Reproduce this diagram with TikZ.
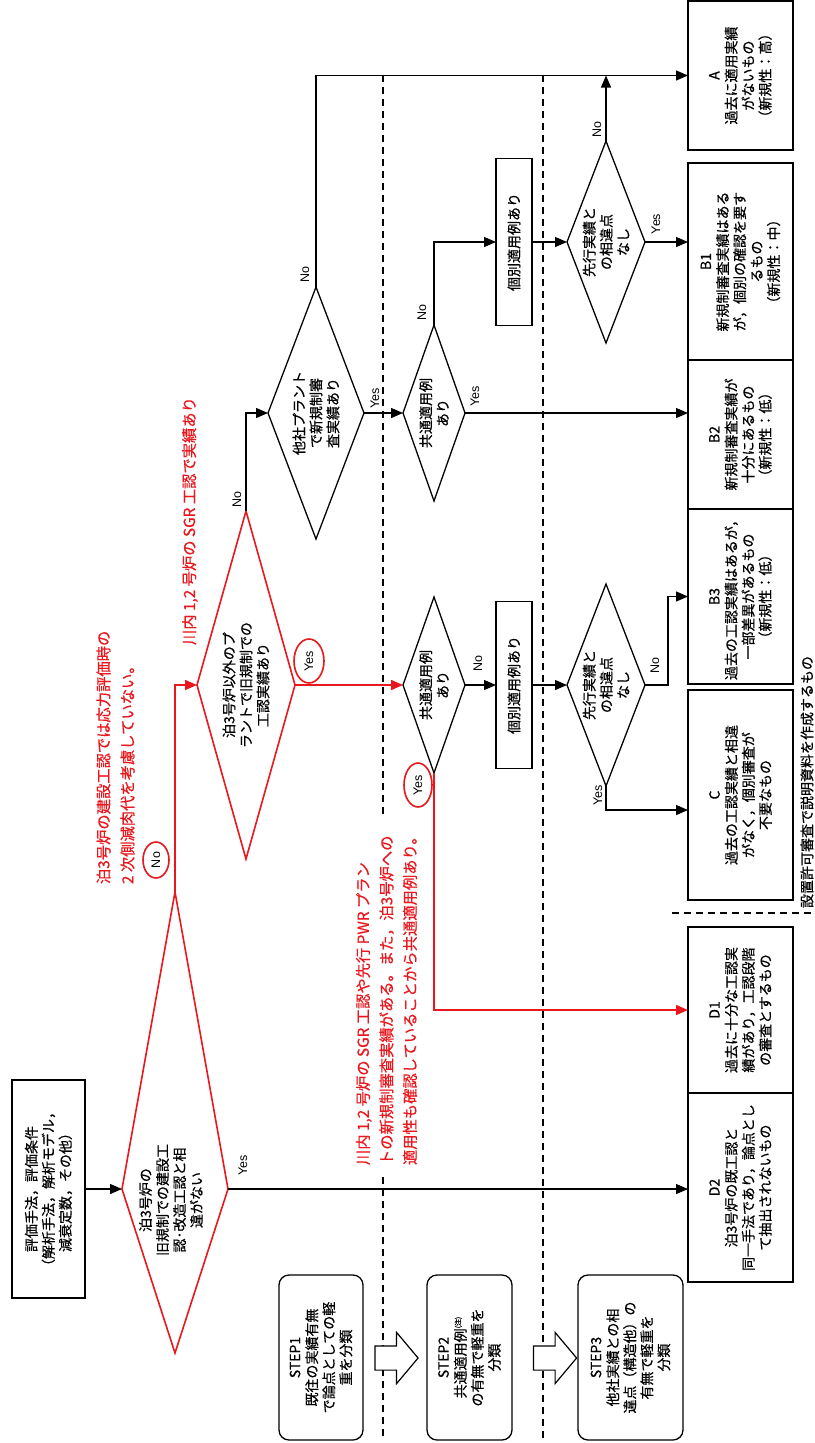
\documentclass[tikz,border=0pt]{standalone}
\usepackage{fontspec}
\setmainfont{Noto Sans CJK JP}[FakeBold=0.5]
\newfontfamily\lat{Liberation Sans}
\usetikzlibrary{arrows.meta,shapes.geometric,shapes.arrows}
\definecolor{cred}{RGB}{232,24,30}
\newcommand{\bxf}{\fontsize{14pt}{17pt}\selectfont}
\newcommand{\lblf}{\lat\fontsize{12.5pt}{14pt}\selectfont}
\newcommand{\ntf}{\fontsize{15.3pt}{24pt}\selectfont}
\begin{document}
\begin{tikzpicture}[x=1pt,y=-1pt,
 every node/.style={inner sep=0pt,outer sep=0pt},
 rbox/.style={draw,line width=1.3pt,rotate=90,align=center,font=\bxf},
 stepbox/.style={rbox,rounded corners=10pt},
 dia/.style={diamond,draw,line width=1.3pt},
 rdia/.style={diamond,draw=cred,line width=1.6pt},
 txt/.style={rotate=90,align=center,font=\bxf},
 lbl/.style={rotate=90,font=\lblf},
 roval/.style={ellipse,draw=cred,line width=1.6pt,rotate=90,font=\lblf},
 rnote/.style={rotate=90,align=left,text=cred,font=\ntf,anchor=west},
 ar/.style={line width=1.3pt,-{Triangle[length=12pt,width=10pt]}},
 rar/.style={draw=cred,line width=1.6pt,-{Triangle[length=12pt,width=10pt]}},
 dsh/.style={line width=1.3pt,dash pattern=on 7pt off 5pt},
 barrow/.style={single arrow,draw,line width=1.2pt,fill=white,minimum height=43pt,
   single arrow head extend=13.5pt,single arrow tip angle=100,inner ysep=11.5pt,inner xsep=0pt}
]
\useasboundingbox (0,0) rectangle (814,1443);
\fill[white] (0,0) rectangle (814,1443);

% separators
\draw[dsh] (383,75) -- (383,817);
\draw[dsh] (383,1177) -- (383,1440);
\draw[dsh] (543,75) -- (543,1440);
\draw[dsh] (672,913) -- (814,913);

% input box
\node[rbox,minimum width=218pt,minimum height=73pt] (hyoka) at (48.5,1189)
 {評価手法，評価条件\\（解析手法，解析モデル，\\減衰定数，その他）};

% decision 1 (kite)
\coordinate (d1t) at (175,892);
\coordinate (d1l) at (122,1189);
\coordinate (d1b) at (175,1353);
\coordinate (d1r) at (228,1189);
\draw[cred,line width=1.6pt] (d1t) -- (d1l) -- (d1b) -- (d1r) -- cycle;
\node[txt] (d1) at (171,1200) {泊3号炉の\\旧規制での建設工\\認･改造工認と相\\違がない};

% decision 2
\node[rdia,minimum width=98pt,minimum height=348pt] (d2) at (246,685) {};
\node[txt] (d2x) at (d2) {泊3号炉以外のプ\\ラントで旧規制での\\工認実績あり};

% other decisions
\node[dia,minimum width=96pt,minimum height=252pt] (tasha) at (316,413) {};
\node[txt] (tashax) at (tasha) {他社プラント\\で新規制審\\査実績あり};
\node[dia,minimum width=62pt,minimum height=176pt] (kyo1) at (434,413) {};
\node[txt] (kyo1x) at (kyo1) {共通適用例\\あり};
\node[dia,minimum width=62pt,minimum height=176pt] (kyo2) at (434,685) {};
\node[txt] (kyo2x) at (kyo2) {共通適用例\\あり};
\node[rbox,minimum width=167pt,minimum height=36pt] (ko1) at (514,242) {個別適用例あり};
\node[rbox,minimum width=167pt,minimum height=36pt] (ko2) at (514,685) {個別適用例あり};
\node[dia,minimum width=78pt,minimum height=202pt] (sen1) at (606,242) {};
\node[txt] (sen1x) at (sen1) {先行実績と\\の相違点\\なし};
\node[dia,minimum width=78pt,minimum height=202pt] (sen2) at (606,685) {};
\node[txt] (sen2x) at (sen2) {先行実績と\\の相違点\\なし};

% result boxes
\node[rbox,minimum width=149pt,minimum height=105pt] (A) at (740.5,75.5)
 {A\\過去に適用実績\\がないもの\\（新規性：高）};
\node[rbox,minimum width=197pt,minimum height=105pt] (B1) at (740.5,261.5)
 {B1\\新規制審査実績はある\\が，個別の確認を要す\\るもの\\（新規性：中）};
\node[rbox,minimum width=149pt,minimum height=105pt] (B2) at (740.5,434.5)
 {B2\\新規制審査実績が\\十分にあるもの\\（新規性：低）};
\node[rbox,minimum width=175pt,minimum height=105pt] (B3) at (740.5,596.5)
 {B3\\過去の工認実績はあるが，\\一部差異があるもの\\（新規性：低）};
\node[rbox,minimum width=210pt,minimum height=105pt] (C) at (740.5,795)
 {C\\過去の工認実績と相違\\がなく，個別審査が\\不要なもの};
\node[rbox,minimum width=166pt,minimum height=105pt] (D1) at (740.5,1010)
 {D1\\過去に十分な工認実\\績があり，工認段階\\の審査とするもの};
\node[rbox,minimum width=189pt,minimum height=105pt] (D2) at (740.5,1187.5)
 {D2\\泊3号炉の既工認と\\同一手法であり，論点とし\\て抽出されないもの};
\node[txt,anchor=west] (setchi) at (807,908) {設置許可審査で説明資料を作成するもの};

% step boxes
\node[stepbox,minimum width=165pt,minimum height=84pt] (s1) at (321,1357.5)
 {STEP1\\既往の実績有無\\で論点としての軽\\重を分類};
\node[stepbox,minimum width=165pt,minimum height=85pt] (s2) at (469.5,1357.5)
 {STEP2\\共通適用例{\fontsize{7pt}{7pt}\selectfont\raisebox{5pt}{(注)}}\\の有無で軽重を\\分類};
\node[stepbox,minimum width=165pt,minimum height=105pt] (s3) at (630.5,1357.5)
 {STEP3\\他社実績との相\\違点（構造他）の\\有無で軽重を\\分類};
\node[barrow] (ba1) at (391.5,1358) {};
\node[barrow] (ba2) at (550,1358) {};

% red notes
\node[rnote] (n1) at (115.5,884) {泊3号炉の建設工認では応力評価時の\\2 次側減肉代を考慮していない。};
\node[rnote] (n2) at (190,645) {川内 1,2 号炉の SGR 工認で実績あり};
\node[rnote,font=\fontsize{15.3pt}{23.5pt}\selectfont] (n3) at (386.5,1165)
 {川内 1,2 号炉の SGR 工認や先行 PWR プラン\\トの新規制審査実績がある。また，泊3号炉への\\適用性も確認していることから共通適用例あり。};

% connectors
\draw[ar] (hyoka.south) -- (d1l);
\draw[ar] (d1r) -- (d1r -| D2.north);
\draw[rar] (d1t) |- (d2.west);
\draw[rar] (d2.east) -- (kyo2.west);
\draw[ar] (d2.north) |- (tasha.west);
\draw[ar] (tasha.north) |- (A.north);
\draw[ar] (tasha.east) -- (kyo1.west);
\draw[ar] (kyo1.east) -- (kyo1.east -| B2.north);
\draw[ar] (kyo1.north) |- (ko1.north);
\draw[ar] (ko1.south) -- (sen1.west);
\draw[ar] (sen1.east) -- (sen1.east -| B1.north);
\draw[ar] (sen1.north) -- (sen1.north |- A.north);
\draw[ar] (kyo2.east) -- (ko2.north);
\draw[ar] (ko2.south) -- (sen2.west);
\coordinate (b3j) at (668,596.5);
\draw[ar] (sen2.east) -| (b3j) -- (b3j -| B3.north);
\coordinate (cj) at (606,810);
\draw[ar] (sen2.south) -- (cj) -- (cj -| C.north);
\coordinate (dj) at (434,1010);
\draw[rar] (kyo2.south) -- (dj) -- (dj -| D1.north);

% labels
\node[lbl] (y1) at (243,1165) {Yes};
\node[roval,minimum width=36pt,minimum height=26pt] (no1) at (156,860) {No};
\node[roval,minimum width=44pt,minimum height=30pt] (yes2) at (309,661) {Yes};
\node[lbl] (no2) at (237,500) {No};
\node[lbl] (no3) at (305,275) {No};
\node[lbl] (y3) at (375,398) {Yes};
\node[lbl] (no4) at (422,313) {No};
\node[lbl] (y4) at (475,396) {Yes};
\node[lbl] (no5) at (597,130) {No};
\node[lbl] (y5) at (656,224) {Yes};
\node[lbl] (no6) at (478,664) {No};
\node[roval,minimum width=44pt,minimum height=28pt] (yes6) at (418,785) {Yes};
\node[lbl] (no7) at (655,666) {No};
\node[lbl] (y7) at (598,795) {Yes};
\end{tikzpicture}
\end{document}
